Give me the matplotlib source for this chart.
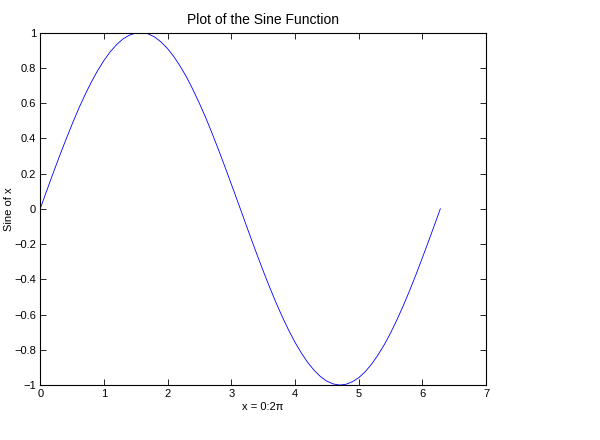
import matplotlib
matplotlib.use("Agg")
from matplotlib import pyplot as plt

plt.rcParams['font.family'] = ['Liberation Sans', 'DejaVu Sans']

# values
x_vals = [0.0, 0.1, 0.2, 0.3, 0.4, 0.5, 0.6, 0.7, 0.8, 0.9,
          1.0, 1.1, 1.2, 1.3, 1.4, 1.5, 1.571, 1.6, 1.7, 1.8, 1.9,
          2.0, 2.1, 2.2, 2.3, 2.4, 2.5, 2.6, 2.7, 2.8, 2.9,
          3.0, 3.1, 3.2, 3.3, 3.4, 3.5, 3.6, 3.7, 3.8, 3.9,
          4.0, 4.1, 4.2, 4.3, 4.4, 4.5, 4.6, 4.7, 4.712, 4.8, 4.9,
          5.0, 5.1, 5.2, 5.3, 5.4, 5.5, 5.6, 5.7, 5.8, 5.9,
          6.0, 6.1, 6.2, 6.283]
y_vals = [0.000, 0.100, 0.199, 0.296, 0.389, 0.479, 0.565, 0.644, 0.717, 0.783,
          0.841, 0.891, 0.932, 0.964, 0.985, 0.997, 1.000, 1.000, 0.992, 0.974, 0.946,
          0.909, 0.863, 0.808, 0.746, 0.675, 0.598, 0.516, 0.427, 0.335, 0.239,
          0.141, 0.042, -0.058, -0.158, -0.256, -0.351, -0.443, -0.530, -0.612, -0.688,
          -0.757, -0.818, -0.872, -0.916, -0.952, -0.978, -0.994, -1.000, -1.000, -0.996, -0.982,
          -0.959, -0.926, -0.883, -0.832, -0.773, -0.706, -0.631, -0.551, -0.465, -0.374,
          -0.279, -0.182, -0.083, 0.000]

x_ticks = [0, 1, 2, 3, 4, 5, 6, 7]
y_ticks = [-1, -0.8, -0.6, -0.4, -0.2, 0, 0.2, 0.4, 0.6, 0.8, 1]
y_tick_labels = ['\u22121', '\u22120.8', '\u22120.6', '\u22120.4', '\u22120.2', '0',
                 '0.2', '0.4', '0.6', '0.8', '1']

fig = plt.figure(figsize=(6, 4.4), dpi=100)
ax = fig.add_axes([0.067, 0.125, 0.743, 0.801])

ax.plot(x_vals, y_vals, color='blue', linewidth=0.6)

ax.set_xlim(0, 7)
ax.set_ylim(-1, 1)
ax.set_xticks(x_ticks)
ax.set_xticklabels([str(t) for t in x_ticks])
ax.set_yticks(y_ticks)
ax.set_yticklabels(y_tick_labels)

ax.tick_params(direction='in', length=4, width=0.6, labelsize=8,
               top=True, right=True, pad=3)
for s in ax.spines.values():
    s.set_linewidth(0.8)

ax.set_title("Plot of the Sine Function", fontsize=10, pad=6)
ax.set_xlabel("x = 0:2\u03c0", fontsize=8, labelpad=2)
ax.set_ylabel("Sine of x", fontsize=8, labelpad=0)

fig.savefig("out.png", dpi=100)
